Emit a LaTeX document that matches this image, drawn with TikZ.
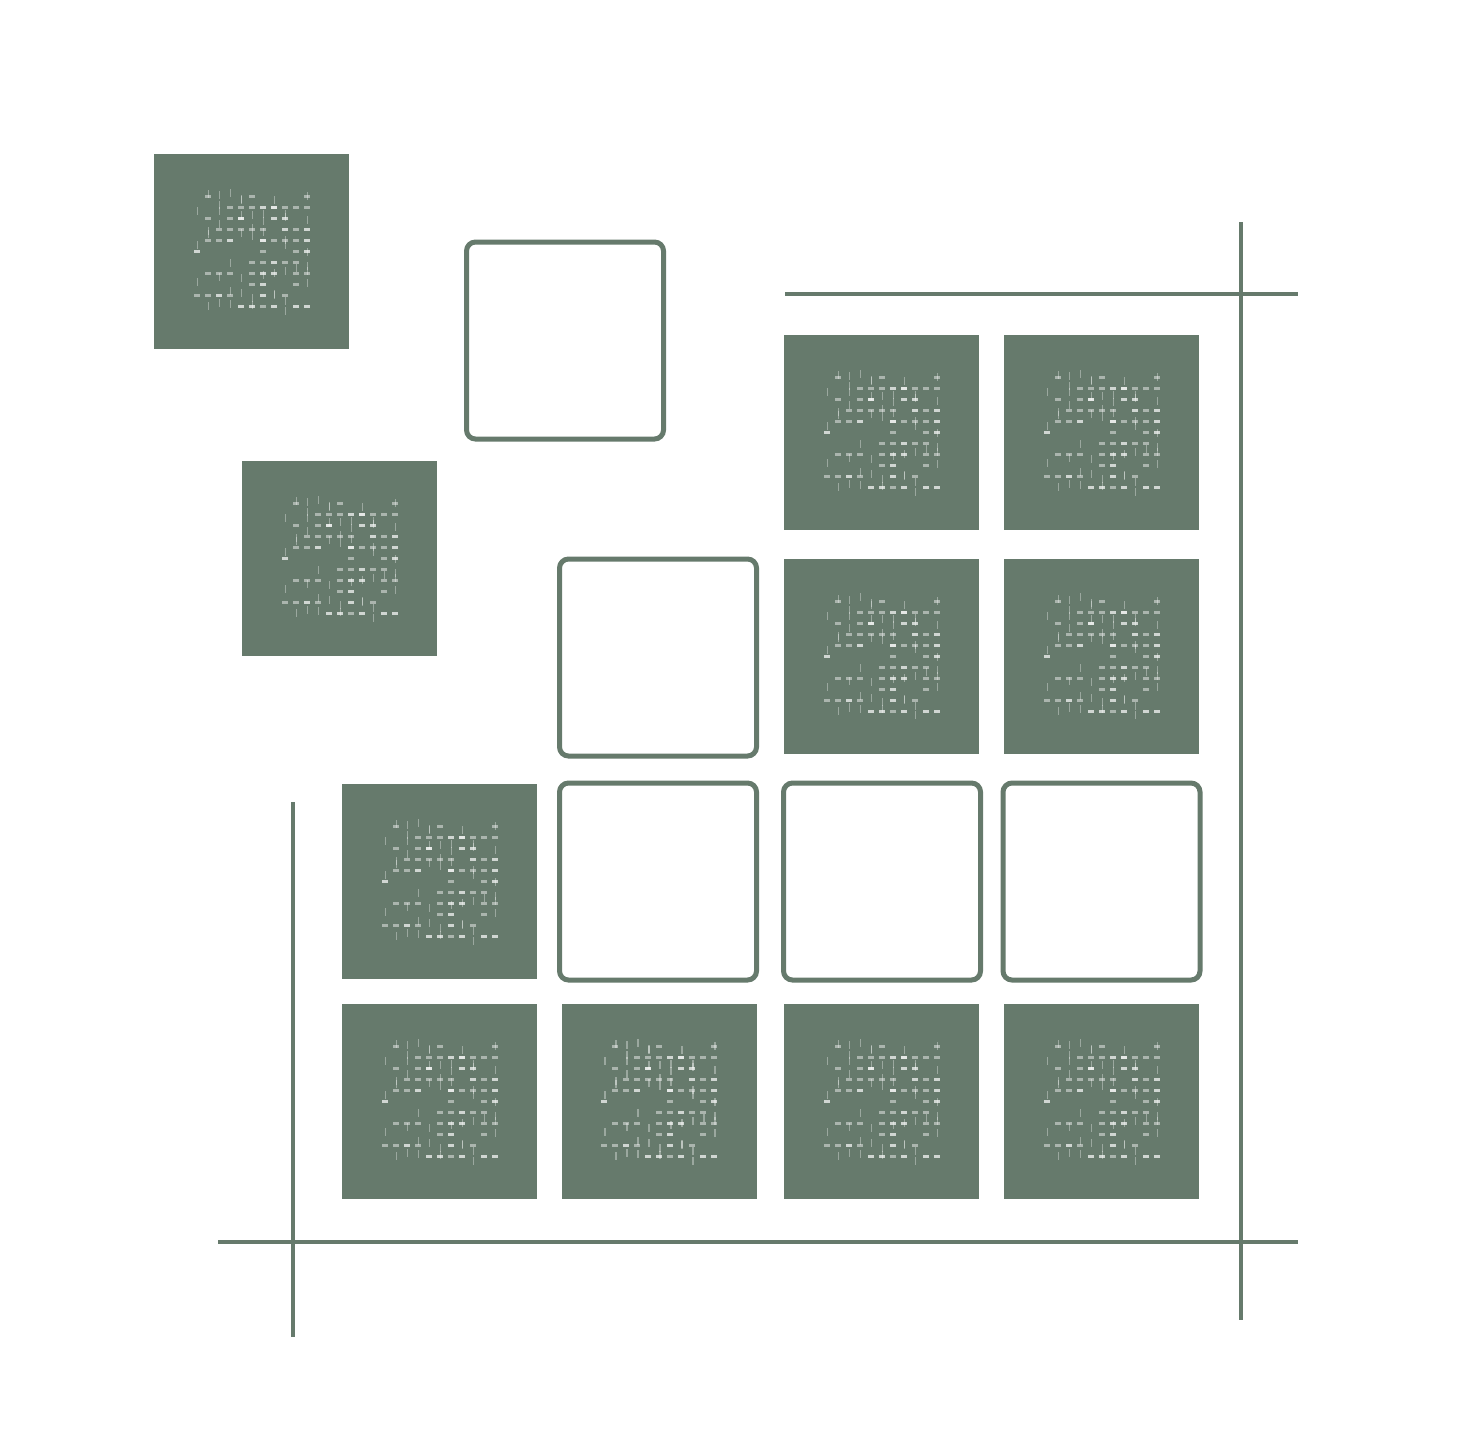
\documentclass[tikz,border=0pt]{standalone}
\usetikzlibrary{positioning}
\definecolor{sage}{HTML}{667A6C}
\tikzset{
  tile/.style={fill=sage, minimum size=1.95cm, inner sep=0pt,
    path picture={
      \pgfmathsetseed{11}
      \foreach \k in {1,...,90}{
        \pgfmathsetmacro{\gx}{0.11*round(5.5*rand)-0.03}
        \pgfmathsetmacro{\gy}{0.11*round(5.5*rand)-0.015}
        \fill[white, opacity=0.45] ([shift={(\gx,\gy)}]path picture bounding box.center) rectangle ++(0.06,0.03);
      }
      \foreach \k in {1,...,50}{
        \pgfmathsetmacro{\gx}{0.11*round(5*rand)}
        \pgfmathsetmacro{\gy}{0.6*rand-0.04}
        \fill[white, opacity=0.35] ([shift={(\gx,\gy)}]path picture bounding box.center) rectangle ++(0.015,0.08);
      }
    }},
  slot/.style={draw=sage, line width=0.05cm, rounded corners=0.09cm, minimum size=1.97cm, inner sep=0pt},
  rule/.style={draw=sage, line width=0.045cm}
}
\begin{document}
\begin{tikzpicture}
    \useasboundingbox (0,0) rectangle (14.62,-14.45);

    % Loose pieces
    \node (a) [tile] at (2.515,-2.515) {};
    \node (b) [tile] at (3.395,-5.585) {};
    \node (s0) [slot] at (5.65,-3.405) {};

    % Grid, row 1
    \node (t13) [tile] at (8.815,-4.325) {};
    \node (t14) [tile] at (11.015,-4.325) {};
    % row 2
    \node (s22) [slot] at (6.58,-6.575) {};
    \node (t23) [tile] at (8.815,-6.56) {};
    \node (t24) [tile] at (11.015,-6.56) {};
    % row 3
    \node (t31) [tile] at (4.395,-8.815) {};
    \node (s32) [slot] at (6.58,-8.815) {};
    \node (s33) [slot] at (8.82,-8.815) {};
    \node (s34) [slot] at (11.015,-8.815) {};
    % row 4
    \node (t41) [tile] at (4.395,-11.015) {};
    \node (t42) [tile] at (6.59,-11.015) {};
    \node (t43) [tile] at (8.815,-11.015) {};
    \node (t44) [tile] at (11.015,-11.015) {};

    % Frame lines
    \draw[rule] (7.85,-2.94) -- (12.98,-2.94);
    \draw[rule] (12.41,-2.22) -- (12.41,-13.2);
    \draw[rule] (2.18,-12.42) -- (12.98,-12.42);
    \draw[rule] (2.93,-8.02) -- (2.93,-13.37);
\end{tikzpicture}
\end{document}
